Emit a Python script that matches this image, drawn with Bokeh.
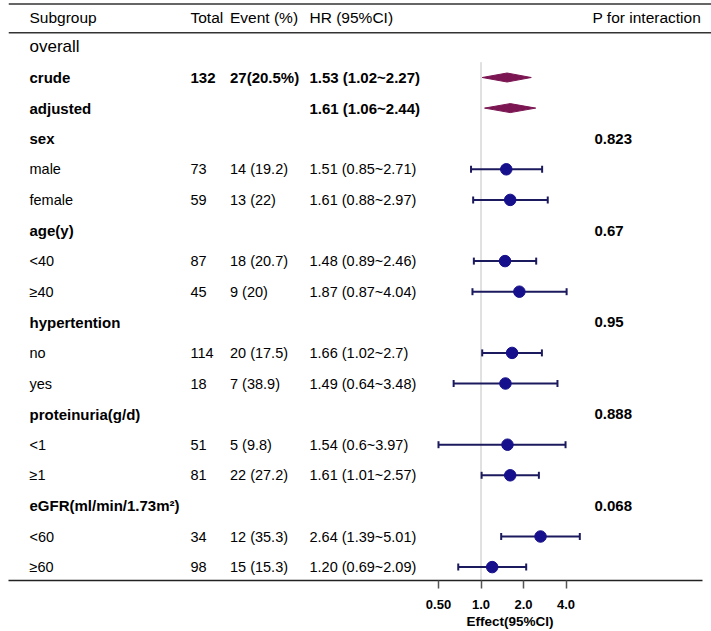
import math
from bokeh.plotting import figure
from bokeh.models import ColumnDataSource, LabelSet, Label, Span, FixedTicker, Range1d, Title
from bokeh.embed import file_html
from bokeh.resources import INLINE
from bokeh.core.properties import value

# ---------------- data ----------------
header = ["Subgroup", "Total", "Event (%)", "HR (95%CI)", "P for interaction"]

subgroup = ["overall", " crude", " adjusted", "sex", "male", "female", "age(y)", "<40", "\u226540",
            "hypertention", "no", "yes", "proteinuria(g/d)", "<1", "\u22651",
            "eGFR(ml/min/1.73m\u00b2)", "<60", "\u226560"]
is_bold = [False, True, True, True, False, False, True, False, False,
           True, False, False, True, False, False, True, False, False]
total = ["", "132", "", "", "73", "59", "", "87", "45", "", "114", "18", "", "51", "81", "", "34", "98"]
event = ["", "27(20.5%)", "", "", "14 (19.2)", "13 (22)", "", "18 (20.7)", "9 (20)", "",
         "20 (17.5)", "7 (38.9)", "", "5 (9.8)", "22 (27.2)", "", "12 (35.3)", "15 (15.3)"]
hr_ci = ["", "1.53 (1.02~2.27)", "1.61 (1.06~2.44)", "", "1.51 (0.85~2.71)", "1.61 (0.88~2.97)", "",
         "1.48 (0.89~2.46)", "1.87 (0.87~4.04)", "", "1.66 (1.02~2.7)", "1.49 (0.64~3.48)", "",
         "1.54 (0.6~3.97)", "1.61 (1.01~2.57)", "", "2.64 (1.39~5.01)", "1.20 (0.69~2.09)"]
p_inter = ["", "", "", "0.823", "", "", "0.67", "", "", "0.95", "", "", "0.888", "", "", "0.068", "", ""]

# subgroup estimates (rows counted from "overall" = 1)
pt_rows = [5, 6, 8, 9, 11, 12, 14, 15, 17, 18]
pt_est = [1.51, 1.61, 1.48, 1.87, 1.66, 1.49, 1.54, 1.61, 2.64, 1.20]
pt_lo = [0.85, 0.88, 0.89, 0.87, 1.02, 0.64, 0.50, 1.01, 1.39, 0.69]
pt_hi = [2.71, 2.97, 2.46, 4.04, 2.70, 3.48, 3.97, 2.57, 5.01, 2.09]

# overall (diamonds)
dm_rows = [2, 3]
dm_est = [1.53, 1.61]
dm_lo = [1.02, 1.06]
dm_hi = [2.27, 2.44]

tick_vals = [0.5, 1.0, 2.0, 4.0]
tick_text = ["0.50", "1.0", "2.0", "4.0"]
x_title = "Effect(95%CI)"

# ---------------- layout ----------------
W, H = 711, 631
LEFT = 8               # frame starts 8px in
FW = W - LEFT          # frame width
FRAME_H = 580
PX_DBL = 42.5          # pixels per doubling
X_ONE = 472.5          # frame x of HR = 1
ROW0 = 15.8            # frame y of row 0
ROW_H = 30.6

x_start = 2 ** (-X_ONE / PX_DBL)
x_end = 2 ** ((FW - X_ONE) / PX_DBL)
y_top = (0 - ROW0) / ROW_H
y_bot = (FRAME_H - ROW0) / ROW_H

FONT = "Liberation Sans"

p = figure(width=W, height=H, x_axis_type="log", y_axis_location=None,
           x_range=Range1d(x_start, x_end), y_range=Range1d(y_bot, y_top),
           toolbar_location=None, output_backend="svg",
           min_border_left=LEFT, min_border_right=0, min_border_top=0,
           min_border_bottom=H - FRAME_H)
p.outline_line_color = None
p.grid.visible = False
p.background_fill_color = "white"

# horizontal rules
for loc in [(3.5 - ROW0) / ROW_H, (32.3 - ROW0) / ROW_H]:
    p.add_layout(Span(location=loc, dimension="width", line_color="#333333", line_width=1.5))

# reference line at HR = 1
p.segment(x0=[1.0], x1=[1.0], y0=[1.5], y1=[y_bot + 1], line_color="#c2c2c2", line_width=1)

# diamonds
dxs = [[lo, e, hi, e] for lo, e, hi in zip(dm_lo, dm_est, dm_hi)]
dh = 4.5 / ROW_H
dys = [[r, r - dh, r, r + dh] for r in dm_rows]
p.patches(xs=dxs, ys=dys, fill_color="#7b1652", line_color="#7b1652", line_width=1)

# CIs
src = ColumnDataSource(dict(y=pt_rows, est=pt_est, lo=pt_lo, hi=pt_hi))
p.segment(x0="lo", x1="hi", y0="y", y1="y", source=src, line_color="#1c1a5e", line_width=2)
p.scatter(x="lo", y="y", source=src, marker="dash", angle=math.pi / 2, size=7,
          line_color="#1c1a5e", line_width=2)
p.scatter(x="hi", y="y", source=src, marker="dash", angle=math.pi / 2, size=7,
          line_color="#1c1a5e", line_width=2)
p.scatter(x="est", y="y", source=src, size=11.5, fill_color="#16108c", line_color="#16108c")

# x axis
ax = p.xaxis[0]
ax.ticker = FixedTicker(ticks=tick_vals)
ax.major_label_overrides = {v: t for v, t in zip(tick_vals, tick_text)}
ax.bounds = (x_start, 2 ** ((694 - X_ONE) / PX_DBL))
ax.axis_line_color = "#222222"
ax.axis_line_width = 1.5
ax.major_tick_line_color = "#555555"
ax.major_tick_line_width = 1.5
ax.major_tick_in = 0
ax.major_tick_out = 8
ax.minor_tick_line_color = None
ax.major_label_standoff = 11
ax.major_label_text_font = FONT
ax.major_label_text_font_style = "bold"
ax.major_label_text_font_size = "13px"
ax.major_label_text_color = "black"

p.add_layout(Title(text=x_title, align="left", offset=458, standoff=0,
                   text_font=FONT, text_font_style="bold", text_font_size="13.5px",
                   text_color="black"), "below")

# header
hdr_x = [21, 182, 221.5, 301, 584]
hdr_y = (16.5 - ROW0) / ROW_H
for t, xx in zip(header, hdr_x):
    p.add_layout(Label(x=xx, y=hdr_y, x_units="screen", text=t, text_font=FONT,
                       text_font_size="15.5px", text_baseline="middle", text_color="black"))

# table cells
col_x = [21, 182, 221.5, 301, 586]
columns = [subgroup, total, event, hr_ci, p_inter]
cells = {"normal": dict(x=[], y=[], t=[]), "bold": dict(x=[], y=[], t=[]), "big": dict(x=[], y=[], t=[])}
for ci, col in enumerate(columns):
    for ri, txt in enumerate(col):
        if not txt:
            continue
        key = "bold" if is_bold[ri] else ("big" if (ci == 0 and ri == 0) else "normal")
        cells[key]["x"].append(col_x[ci])
        cells[key]["y"].append(ri + 1)
        cells[key]["t"].append(txt)

styles = {"normal": ("normal", "14.5px"), "bold": ("bold", "15px"), "big": ("normal", "17px")}
for key, (st, sz) in styles.items():
    s = ColumnDataSource(cells[key])
    p.add_layout(LabelSet(x="x", y="y", text="t", source=s, x_units="screen",
                          text_font=value(FONT), text_font_style=st, text_font_size=sz,
                          text_baseline="middle", text_color="black"))

open("out.html", "w").write(file_html(p, INLINE))
